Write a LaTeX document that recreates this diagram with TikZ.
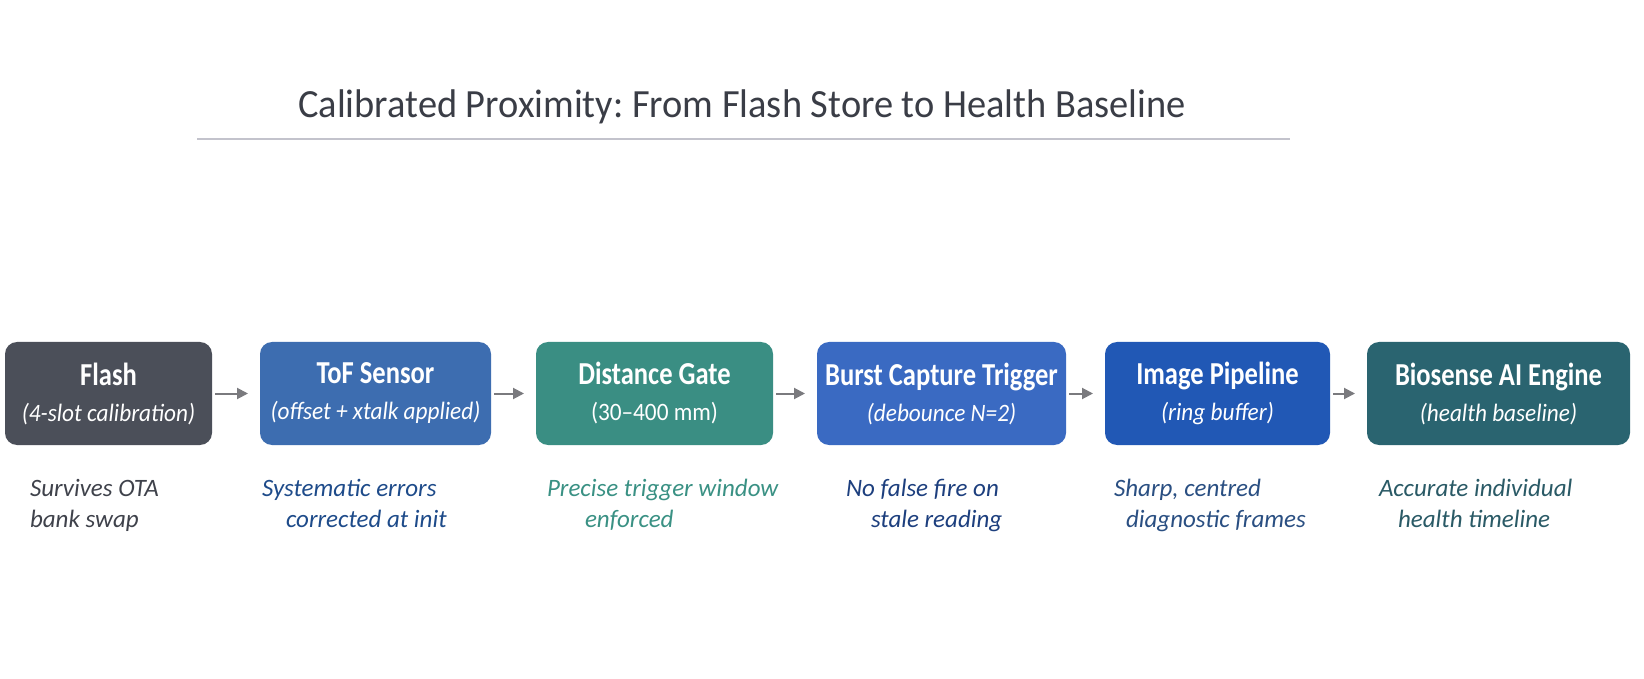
\documentclass[tikz,border=0pt]{standalone}
\usepackage{fontspec}
\setmainfont{Carlito}
\newfontfamily\titlefont[FakeStretch=0.96]{Carlito}
\newfontfamily\headfont[FakeStretch=0.83]{Carlito}
\newfontfamily\subfont[FakeStretch=0.93]{Carlito}
\usetikzlibrary{arrows.meta}
\frenchspacing

\definecolor{titlegray}{HTML}{3A3D46}
\definecolor{rulegray}{HTML}{C3C3CC}
\definecolor{arrowgray}{HTML}{7A7A7E}
\definecolor{flashgray}{HTML}{4B4F59}
\definecolor{tofblue}{HTML}{3D6DB0}
\definecolor{gateteal}{HTML}{3A8E83}
\definecolor{burstblue}{HTML}{3A6AC2}
\definecolor{pipeblue}{HTML}{2158B5}
\definecolor{engineteal}{HTML}{2A6470}
\definecolor{notegray}{HTML}{3F424B}
\definecolor{noteblue}{HTML}{1E4B8A}
\definecolor{noteteal}{HTML}{3A9184}
\definecolor{notenavy}{HTML}{1D3F7E}
\definecolor{notesteel}{HTML}{2A4F82}
\definecolor{notepine}{HTML}{2A5A66}

\newcommand{\stagehead}[1]{{\headfont\upshape\bfseries\fontsize{16}{18}\selectfont #1}}

\begin{document}
\begin{tikzpicture}[x=0.5pt,y=-0.5pt]
\tikzstyle{every node}=[inner sep=0pt, outer sep=0pt]
\tikzstyle{stage}=[rectangle, rounded corners=6pt, minimum height=51.5pt, text=white, align=center, font=\subfont\fontsize{12.5}{18}\selectfont\itshape]
\tikzstyle{note}=[anchor=base west, font=\fontsize{12.5}{15}\selectfont\itshape]
\tikzstyle{flow}=[-{Triangle[length=5.5pt,width=5.5pt]}, draw=arrowgray, fill=arrowgray, line width=1pt, shorten <=1.5pt, shorten >=6pt]
\useasboundingbox (0,0) rectangle (1644,679);
\fill[white] (0,0) rectangle (1644,679);

% title and rule
\draw (742,118) node (title) [anchor=base, text=titlegray, font=\titlefont\fontsize{20}{24}\selectfont] {Calibrated Proximity: From Flash Store to Health Baseline};
\draw[rulegray, line width=1pt] (197,139) -- (1290,139);

% stages
\draw (108.5,393.5) node (flash) [stage, fill=flashgray, minimum width=103.5pt] {\stagehead{Flash}\\(4-slot calibration)};
\draw (375.5,393.5) node (tof) [stage, fill=tofblue, minimum width=115.5pt] {\stagehead{ToF Sensor}\\(offset + xtalk applied)};
\draw (654.5,393.5) node (gate) [stage, fill=gateteal, minimum width=118.5pt] {\stagehead{Distance Gate}\\{\upshape(30–400 mm)}};
\draw (941.5,393.5) node (burst) [stage, fill=burstblue, minimum width=124.5pt] {\stagehead{Burst Capture Trigger}\\(debounce N=2)};
\draw (1217.5,393.5) node (pipe) [stage, fill=pipeblue, minimum width=112.5pt] {\stagehead{Image Pipeline}\\(ring buffer)};
\draw (1498.5,393.5) node (engine) [stage, fill=engineteal, minimum width=131.5pt] {\stagehead{Biosense AI Engine}\\(health baseline)};

\draw[flow] (flash) -- (tof);
\draw[flow] (tof) -- (gate);
\draw[flow] (gate) -- (burst);
\draw[flow] (burst) -- (pipe);
\draw[flow] (pipe) -- (engine);

% notes
\draw (30,496) node (n1a) [note, text=notegray] {Survives OTA};
\draw (30,527) node (n1b) [note, text=notegray] {bank swap};
\draw (262,496) node (n2a) [note, text=noteblue] {Systematic errors};
\draw (286,527) node (n2b) [note, text=noteblue] {corrected at init};
\draw (547,496) node (n3a) [note, text=noteteal] {Precise trigger window};
\draw (585,527) node (n3b) [note, text=noteteal] {enforced};
\draw (846,496) node (n4a) [note, text=notenavy] {No false fire on};
\draw (871,527) node (n4b) [note, text=notenavy] {stale reading};
\draw (1114,496) node (n5a) [note, text=notesteel] {Sharp, centred};
\draw (1126,527) node (n5b) [note, text=notesteel] {diagnostic frames};
\draw (1379,496) node (n6a) [note, text=notepine] {Accurate individual};
\draw (1398,527) node (n6b) [note, text=notepine] {health timeline};
\end{tikzpicture}
\end{document}
